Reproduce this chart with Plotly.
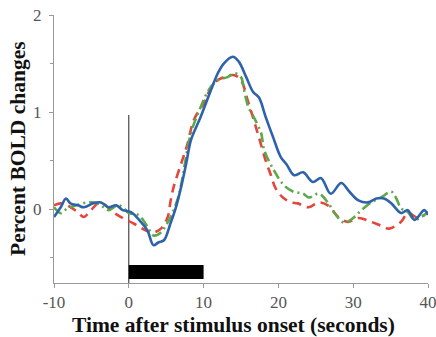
import plotly.graph_objects as go

# ---- data ----
blue_t = [-10, -9.1, -8.4, -7.8, -6.8, -6, -4.8, -3.7, -2.7, -1.7, -0.8, 0.3, 1.6, 2.5, 3.3, 4, 4.7, 5.6, 6.3, 7,
          7.7, 8.3, 9.6, 11, 11.9, 12.7, 13.9, 14.7, 15.7, 16.6, 17.4, 18.3, 19.3, 20.3, 21.1, 22.1, 23.3, 24.6,
          25.7, 27, 28.4, 29.5, 30.7, 32, 33.1, 34.1, 35.1, 36.4, 37.3, 38.2, 39.5, 40]
blue_y = [-0.08, 0.02, 0.11, 0.06, 0.04, 0.02, 0.06, 0.07, 0.02, 0.04, -0.01, -0.03, -0.13, -0.22, -0.37, -0.34,
          -0.32, -0.14, 0.02, 0.23, 0.48, 0.71, 0.95, 1.23, 1.40, 1.50, 1.57, 1.52, 1.36, 1.21, 1.15, 0.95, 0.74,
          0.54, 0.46, 0.35, 0.38, 0.28, 0.32, 0.16, 0.27, 0.18, 0.09, 0.07, 0.11, 0.11, 0.06, -0.04, -0.01, -0.11,
          -0.01, -0.06]

red_t = [-10, -9.1, -8, -7, -6, -5.4, -4.1, -3.5, -2.1, -1.1, 0.7, 2.3, 3.2, 4.3, 5.2, 5.6, 6, 7, 7.8, 8.7, 10,
         11.4, 12.7, 14.1, 15, 15.9, 16.7, 17.4, 18.3, 19, 19.6, 20.6, 21.7, 22.6, 24, 25.4, 26.6, 28, 29.3, 30.7,
         32.4, 33.7, 34.8, 36.4, 37.3, 38.7, 39.5]
red_y = [0.04, 0.06, 0.03, -0.02, -0.08, -0.04, 0.06, 0.06, -0.03, -0.08, -0.15, -0.22, -0.24, -0.2, -0.08, 0.09,
         0.23, 0.47, 0.66, 0.92, 1.09, 1.3, 1.36, 1.38, 1.33, 1.12, 0.92, 0.74, 0.5, 0.35, 0.22, 0.12, 0.07, 0.06,
         0.02, 0.07, 0.04, -0.08, -0.13, -0.09, -0.13, -0.17, -0.2, -0.13, -0.04, -0.09, -0.06]

green_t = [-10, -9.1, -8.2, -7, -5.5, -4.1, -2.7, -1.5, -0.8, 0, 1.3, 2.5, 3.3, 4.3, 5, 5.6, 6.6, 7, 8.3, 9.6,
           10.7, 11.9, 13.2, 14.1, 15, 15.4, 16, 16.7, 17.7, 18.1, 19.4, 20.7, 22, 23.3, 24.1, 25.4, 26.6, 27.7,
           28.8, 30, 31.1, 32.4, 33.7, 35.1, 35.7, 36.4, 37.3, 38.2, 39.1, 40]
green_y = [0.02, -0.04, 0.01, 0.04, 0.07, 0.06, -0.01, 0.04, 0.02, -0.04, -0.06, -0.18, -0.27, -0.24, -0.16,
           -0.08, 0.12, 0.25, 0.78, 1.05, 1.23, 1.33, 1.36, 1.4, 1.36, 1.23, 1.05, 0.95, 0.78, 0.61, 0.4, 0.25,
           0.18, 0.16, 0.12, 0.16, 0.07, -0.06, -0.14, -0.09, -0.01, 0.07, 0.12, 0.18, 0.12, 0.01, -0.03, -0.11,
           -0.08, -0.03]

x_ticks = [-10, 0, 10, 20, 30, 40]
x_ticktext = ["-10", "0", "10", "20", "30", "40"]
y_ticks = [0, 1, 2]
y_ticktext = ["0", "1", "2"]
y_minor_ticks = [-0.5, 0.5, 1.5]

x_title = "Time after stimulus onset (seconds)"
y_title = "Percent BOLD changes"

stim_onset = 0
stim_offset = 10
stim_bar_y = [-0.72, -0.575]
onset_line_top = 0.97

x_range = [-10, 40]
y_range = [-0.76, 2]

serif = "Liberation Serif, Times New Roman, serif"

fig = go.Figure()
fig.add_trace(go.Scatter(x=red_t, y=red_y, mode="lines",
                         line=dict(color="#e2463c", width=2.6, dash="9px,6px", shape="spline"), showlegend=False))
fig.add_trace(go.Scatter(x=green_t, y=green_y, mode="lines",
                         line=dict(color="#5ca84a", width=2.6, dash="10px,4px,2px,4px", shape="spline"), showlegend=False))
fig.add_trace(go.Scatter(x=blue_t, y=blue_y, mode="lines",
                         line=dict(color="#2e62ab", width=2.6, shape="spline"), showlegend=False))

fig.add_shape(type="line", x0=stim_onset, x1=stim_onset, y0=y_range[0], y1=onset_line_top,
              line=dict(color="#222", width=1), layer="below")
fig.add_shape(type="rect", x0=stim_onset, x1=stim_offset, y0=stim_bar_y[0], y1=stim_bar_y[1],
              fillcolor="black", line=dict(width=0))

fig.add_annotation(text="<b>" + x_title + "</b>", xref="paper", yref="paper", x=0.48, y=0,
                   yshift=-42, yanchor="middle", xanchor="center", showarrow=False,
                   font=dict(family=serif, size=21.5, color="#111"))
fig.add_annotation(text="<b>" + y_title + "</b>", xref="paper", yref="paper", x=0, y=0.5,
                   xshift=-36, xanchor="center", yanchor="middle", textangle=-90, showarrow=False,
                   font=dict(family=serif, size=21.5, color="#111"))

fig.update_layout(
    width=436, height=337,
    margin=dict(l=54, r=8, t=15, b=54, autoexpand=False),
    paper_bgcolor="white", plot_bgcolor="white",
    font=dict(family=serif, color="#555"),
    xaxis=dict(range=x_range, tickvals=x_ticks, ticktext=x_ticktext, showgrid=False, zeroline=False,
               automargin=False, showline=True, linecolor="#999", linewidth=1, ticks="outside", ticklen=4,
               tickcolor="#999", ticklabeloverflow="allow", tickfont=dict(size=17, color="#555")),
    yaxis=dict(range=y_range, tickvals=y_ticks, ticktext=y_ticktext, showgrid=False, zeroline=False,
               automargin=False, showline=True, linecolor="#999", linewidth=1, ticks="outside", ticklen=4,
               tickcolor="#999", ticklabelstandoff=4,
               minor=dict(tickvals=y_minor_ticks, ticks="outside", ticklen=3, tickcolor="#999"),
               tickfont=dict(size=17, color="#555")),
)

fig.write_html("out.html", config={"displayModeBar": False},
               post_script="document.body.style.margin='0';document.body.style.overflow='hidden';")
